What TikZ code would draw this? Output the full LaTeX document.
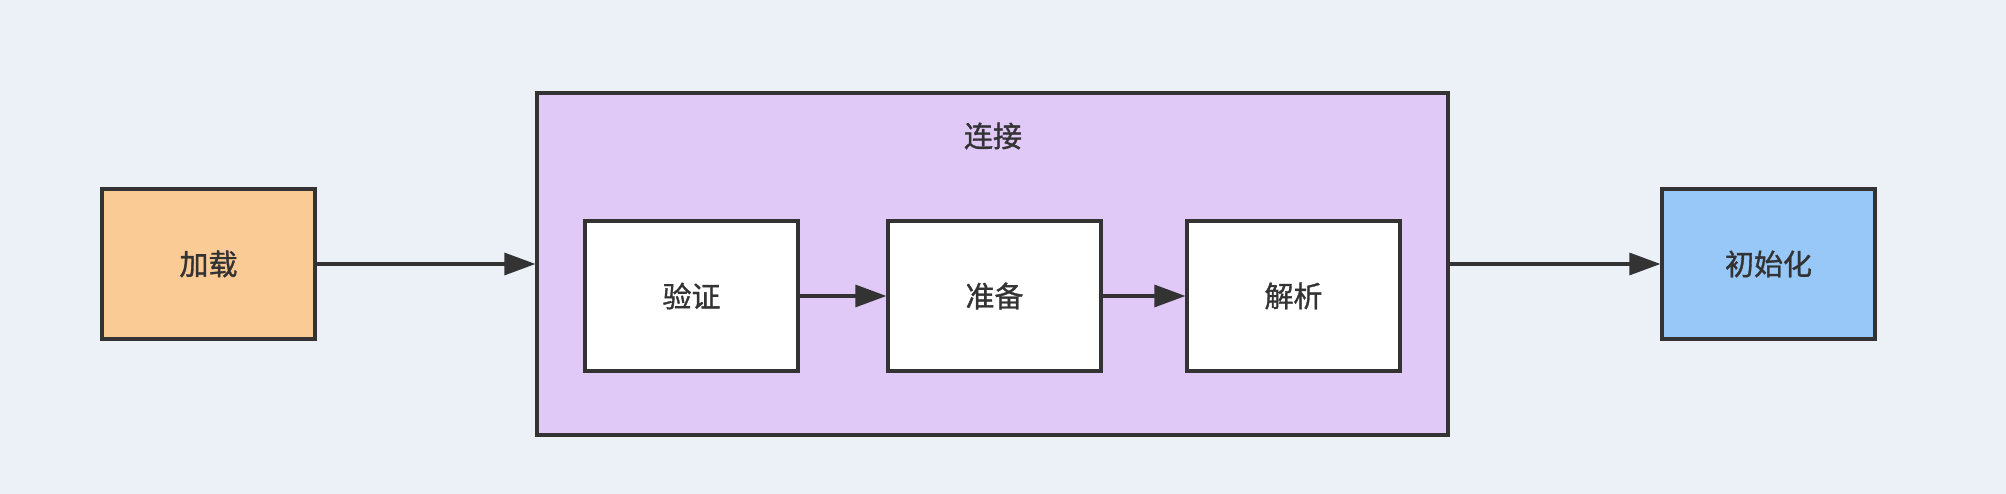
\documentclass[tikz,border=0pt]{standalone}
\usepackage{fontspec}
\newfontfamily\cjk[FakeBold=1.2]{Noto Sans CJK SC}
\usetikzlibrary{arrows.meta}
\definecolor{bgcol}{HTML}{ECF0F7}
\definecolor{loadcol}{HTML}{FBCB96}
\definecolor{linkcol}{HTML}{E1C9F7}
\definecolor{initcol}{HTML}{98C8F8}
\definecolor{inkcol}{HTML}{333333}

\begin{document}
\begin{tikzpicture}[every node/.style={rectangle,draw=inkcol,text=inkcol,font=\cjk\fontsize{16.5}{18}\selectfont,
    minimum width=4.26cm,minimum height=3cm,inner sep=0pt},line width=1.8pt]
  \fill[bgcol] (0,0) rectangle (40.12,9.88);
  \useasboundingbox (0,0) rectangle (40.12,9.88);

  \node[fill=linkcol,minimum width=18.22cm,minimum height=6.84cm] (link) at (19.85,4.6) {};
  \node[draw=none,fill=none,minimum width=0pt,minimum height=0pt] (linklabel) at (19.86,7.16) {连接};

  \node[fill=loadcol] (load) at (4.17,4.6) {加载};
  \node[fill=white] (verify) at (13.83,3.96) {验证};
  \node[fill=white] (prepare) at (19.89,3.96) {准备};
  \node[fill=white] (resolve) at (25.87,3.96) {解析};
  \node[fill=initcol] (init) at (35.37,4.6) {初始化};

  \draw[inkcol,-{Triangle[length=0.62cm,width=0.44cm]}] (load) -- (link);
  \draw[inkcol,-{Triangle[length=0.62cm,width=0.44cm]}] (verify) -- (prepare);
  \draw[inkcol,-{Triangle[length=0.62cm,width=0.44cm]}] (prepare) -- (resolve);
  \draw[inkcol,-{Triangle[length=0.62cm,width=0.44cm]}] (link) -- (init);
\end{tikzpicture}
\end{document}
